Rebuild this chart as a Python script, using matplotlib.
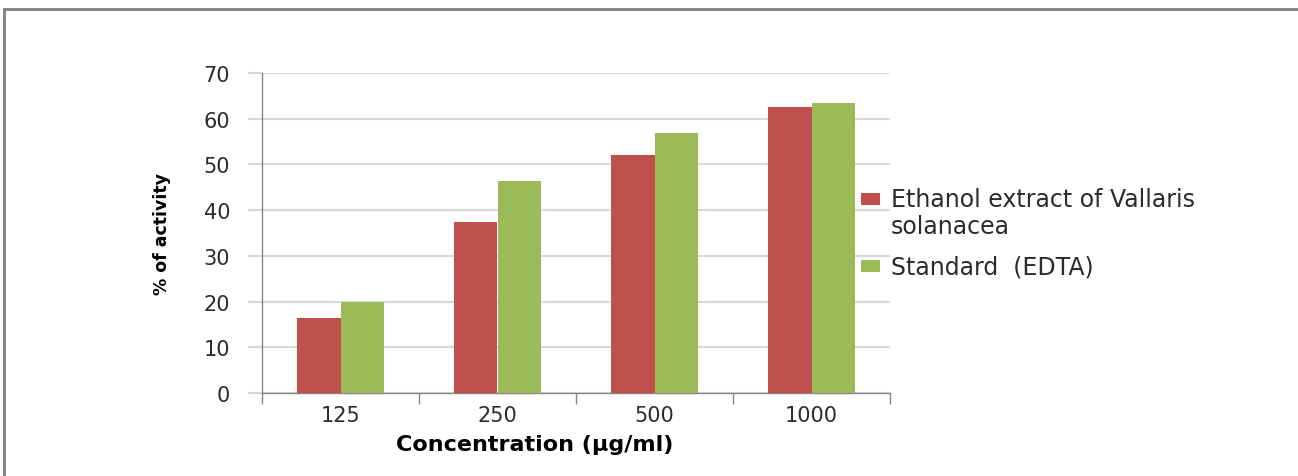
import numpy as np
import matplotlib
matplotlib.use('Agg')
import matplotlib.pyplot as plt
from matplotlib.lines import Line2D
from matplotlib.patches import Rectangle

# data
concentrations = ['125', '250', '500', '1000']
ethanol_extract = [16.4, 37.4, 52.0, 62.5]
edta_standard = [19.9, 46.3, 56.8, 63.4]
y_ticks = [0, 10, 20, 30, 40, 50, 60, 70]
series_names = ['Ethanol extract of Vallaris\nsolanacea', 'Standard  (EDTA)']

red = '#C0504D'
green = '#9BBB59'
axis_grey = '#868686'
grid_grey = '#D9D9D9'
W, H = 1298, 477

fig = plt.figure(figsize=(12.98, 4.77), dpi=100)
fig.patch.set_facecolor('white')

# page frame (top and left edge)
fig.add_artist(Line2D([4 / W, 1], [1 - 10 / H, 1 - 10 / H], transform=fig.transFigure,
                      color='#7F7F7F', linewidth=2))
fig.add_artist(Line2D([4 / W, 4 / W], [0, 1 - 10 / H], transform=fig.transFigure,
                      color='#7F7F7F', linewidth=2))

ax = fig.add_axes([262 / W, 1 - 394 / H, 628 / W, 320 / H])

x = np.arange(len(concentrations))
w = 0.28
ax.bar(x - w / 2, ethanol_extract, width=w, color=red, zorder=3)
ax.bar(x + w / 2, edta_standard, width=w, color=green, zorder=3)

ax.set_xlim(-0.5, len(concentrations) - 0.5)
ax.set_ylim(0, 70)
ax.set_yticks(y_ticks)
ax.set_yticklabels([str(v) for v in y_ticks], fontsize=15, color='#2B2B2B')
ax.set_xticks(x)
ax.set_xticklabels(concentrations, fontsize=15, color='#2B2B2B')
ax.set_xticks(np.arange(len(concentrations) + 1) - 0.5, minor=True)

ax.tick_params(axis='x', which='major', length=0, pad=9)
ax.tick_params(axis='x', which='minor', length=8, color=axis_grey, width=1)
ax.tick_params(axis='y', which='major', length=10, color=grid_grey, width=1.5, pad=13)

ax.grid(axis='y', color=grid_grey, linewidth=1.5, zorder=0)
for side in ['top', 'right']:
    ax.spines[side].set_visible(False)
for side in ['left', 'bottom']:
    ax.spines[side].set_color(axis_grey)
    ax.spines[side].set_linewidth(1)

fig.text(535 / W, 1 - 445 / H, 'Concentration (\u00b5g/ml)', ha='center', va='center',
         fontsize=16, fontweight='bold', color='black')
fig.text(162 / W, 1 - 234 / H, '% of activity', ha='center', va='center', rotation=90,
         fontsize=12.5, fontweight='bold', color='black')

# legend drawn by hand: the swatch sits next to the first text line
legend_rows = [(series_names[0], red, 200), (series_names[1], green, 267)]
for name, colour, yc in legend_rows:
    fig.add_artist(Rectangle((861 / W, 1 - (yc + 6) / H), 19 / W, 12 / H,
                             transform=fig.transFigure, facecolor=colour, edgecolor='none'))
    fig.text(891 / W, 1 - (yc - 12) / H, name, ha='left', va='top', fontsize=17,
             color='#2B2B2B', linespacing=1.15)

fig.savefig('out.png', dpi=100, facecolor='white')
